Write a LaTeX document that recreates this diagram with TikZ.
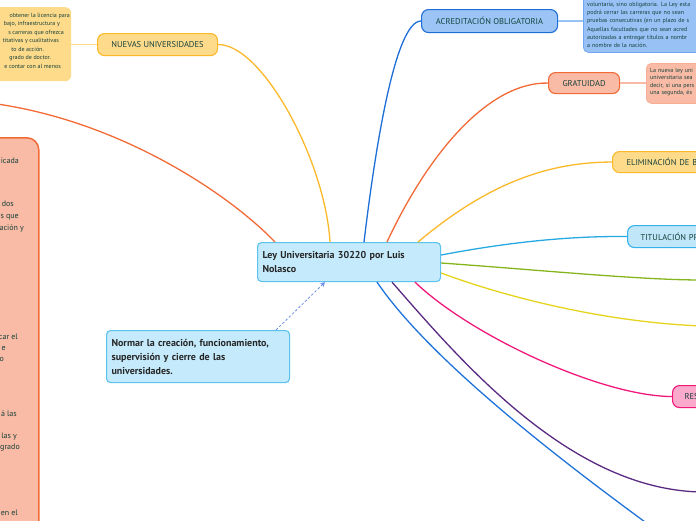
\documentclass[tikz,border=0pt]{standalone}
\usepackage{fontspec}
\setmainfont{PT Sans}
\usetikzlibrary{calc,arrows.meta}
\definecolor{txt}{HTML}{16403A}
\definecolor{mainfill}{HTML}{C4EAFB}
\definecolor{mainline}{HTML}{5CC3EE}
\definecolor{yelfill}{HTML}{FEDB8B}
\definecolor{yelline}{HTML}{FBB829}
\definecolor{acrfill}{HTML}{9CC5F6}
\definecolor{acrline}{HTML}{1E6ED8}
\definecolor{acrnote}{HTML}{98C2F6}
\definecolor{acrnoteline}{HTML}{6FA7F0}
\definecolor{orfill}{HTML}{F9BBA5}
\definecolor{orline}{HTML}{F26A36}
\definecolor{ornoteline}{HTML}{F8AE95}
\definecolor{titfill}{HTML}{BFE6F9}
\definecolor{titline}{HTML}{36B2EA}
\definecolor{pinkfill}{HTML}{FCAACB}
\definecolor{pinkline}{HTML}{F0187A}
\definecolor{cyanline}{HTML}{26A9E3}
\definecolor{greenline}{HTML}{84B51C}
\definecolor{yellowline}{HTML}{E6D41C}
\definecolor{purpleline}{HTML}{5A2A82}
\definecolor{blueline}{HTML}{1F73D9}
\definecolor{dashcol}{HTML}{6F8FE8}
\begin{document}
\begin{tikzpicture}[x=1pt,y=-1pt,
  lab/.style={font=\fontsize{8.5}{10}\selectfont, text=txt},
  pill/.style={draw, line width=1.1pt, rounded corners=7pt, anchor=north west, inner sep=0pt, lab},
  mainbox/.style={draw=mainline, fill=mainfill, line width=1.1pt, rounded corners=4pt, anchor=north west,
     inner xsep=5pt, inner ysep=0pt, align=left, text=black!85, font=\bfseries\fontsize{10}{14}\selectfont},
  notebox/.style={rounded corners=5pt, anchor=north west, inner sep=0pt},
  smalltext/.style={inner sep=0pt, text=txt, font=\fontsize{6}{8.35}\selectfont},
  bigtext/.style={inner sep=0pt, text=txt, font=\fontsize{8}{12}\selectfont, anchor=base east},
  conn/.style={line width=1.3pt},
  notelink/.style={line width=1.6pt}]
\useasboundingbox (0,0) rectangle (696,520);
\clip (0,0) rectangle (696,520);

% ---------- left big orange note ----------
\node[notebox, draw=orline, fill=orfill, line width=1.5pt, rounded corners=12pt, minimum width=240pt, minimum height=500pt] (leftnote) at (-202,137) {};
\node[bigtext] (l1) at (19,163) {icada};
\node[bigtext] (l2) at (14,206) {dos};
\node[bigtext] (l3) at (19,218) {s que};
\node[bigtext] (l4) at (24,230) {ación y};
\node[bigtext] (l5) at (18,339) {car el};
\node[bigtext] (l6) at (6,350) {e};
\node[bigtext] (l7) at (4,361) {o};
\node[bigtext] (l8) at (17,416) {á las};
\node[bigtext] (l9) at (17,438) {las y};
\node[bigtext] (l10) at (20,449) {grado};
\node[bigtext] (l11) at (18,515) {en el};

% ---------- left yellow note ----------
\node[notebox, fill=yelfill, rounded corners=6pt, minimum width=111pt, minimum height=74pt] (nuevnote) at (-40,7) {};
\node[smalltext, anchor=base east] (y1) at (70,17) {obtener la licencia para};
\node[smalltext, anchor=base east] (y2) at (60,25.5) {bajo, infraestructura y};
\node[smalltext, anchor=base east] (y3) at (64,34) {s carreras que ofrezca};
\node[smalltext, anchor=base east] (y4) at (59,42.5) {titativas y cualitativas};
\node[smalltext, anchor=base east] (y5) at (44,51) {to de acción.};
\node[smalltext, anchor=base east] (y6) at (51,59.5) {grado de doctor.};
\node[smalltext, anchor=base east] (y7) at (61,68) {e contar con al menos};

% ---------- main node ----------
\node[mainbox, minimum width=183pt, minimum height=39pt, text width=173pt] (central) at (257,242)
  {Ley Universitaria 30220 por Luis\\Nolasco};

\node[mainbox, minimum width=183pt, minimum height=52pt, text width=173pt] (normar) at (106,330)
  {Normar la creación, funcionamiento,\\supervisión y cierre de las\\universidades.};

% ---------- topic nodes ----------
\node[pill, fill=yelfill, draw=yelline, minimum width=120pt, minimum height=22pt] (nuev) at (97,33) {NUEVAS UNIVERSIDADES};
\node[pill, fill=acrfill, draw=acrline, minimum width=136pt, minimum height=23pt] (acred) at (421,9) {ACREDITACIÓN OBLIGATORIA};
\node[pill, fill=orfill, draw=orline, minimum width=71pt, minimum height=21pt] (grat) at (548,72) {GRATUIDAD};
\node[pill, fill=yelfill, draw=yelline, minimum height=21pt, text width=136pt, align=left, inner xsep=14pt] (elim) at (612,151) {ELIMINACIÓN DE B};
\node[pill, fill=titfill, draw=titline, minimum height=22pt, text width=136pt, align=left, inner xsep=13pt] (titul) at (627,225) {TITULACIÓN PR};
\node[pill, fill=pinkfill, draw=pinkline, minimum height=22pt, text width=80pt, align=left, inner xsep=12pt] (res) at (672,385) {RES};

% ---------- notes on the right ----------
\node[notebox, draw=acrnoteline, fill=acrnote, line width=0.8pt, minimum width=180pt, minimum height=92pt] (acrednote) at (583,-40) {};
\node[smalltext, anchor=base west, text width=170pt, align=left] (acredtext) at (587,6)
  {voluntaria, sino obligatoria. La Ley esta\\podrá cerrar las carreras que no sean\\pruebas consecutivas (en un plazo de s\\Aquellas facultades que no sean acred\\autorizadas a entregar títulos a nombr\\a nombre de la nación.};

\node[notebox, draw=ornoteline, fill=orfill, line width=0.8pt, minimum width=120pt, minimum height=40pt] (gratnote) at (646,63) {};
\node[smalltext, anchor=base west, text width=60pt, align=left, font=\fontsize{6}{7.6}\selectfont] (grattext) at (650,72)
  {La nueva ley uni\\universitaria sea\\decir, si una pers\\una segunda, és};

% ---------- note links ----------
\draw[notelink, draw=yelfill] (nuev.west) -- (nuevnote.east |- nuev.west);
\draw[notelink, draw=acrnote] (acred.east) -- (acrednote.west |- acred.east);
\draw[notelink, draw=orfill] (grat.east) -- (gratnote.west |- grat.east);

% ---------- off-canvas ends ----------
\coordinate (offL) at (-10,103);
\coordinate (offG) at (702,280);
\coordinate (offY) at (702,326);
\coordinate (offP) at (702,492);
\coordinate (offB) at (656,530);

% ---------- connectors ----------
\draw[conn, orline] ($(central.north west)+(18,0)$) .. controls (230,195) and (120,120) .. (offL);
\draw[conn, yelline] ($(central.north west)+(73,0)$) .. controls (325,160) and (262,44) .. (nuev.east);
\draw[conn, acrline] ($(central.north west)+(107,0)$) .. controls (375,150) and (395,21) .. (acred.west);
\draw[conn, orline] ($(central.north west)+(130,0)$) .. controls (430,150) and (490,82) .. (grat.west);
\draw[conn, yelline] ($(central.north west)+(161,0)$) .. controls (480,190) and (540,162) .. (elim.west);
\draw[conn, cyanline] ($(central.north east)+(0,13)$) .. controls (520,240) and (580,236) .. (titul.west);
\draw[conn, greenline] ($(central.north east)+(0,21)$) .. controls (540,270) and (640,280) .. (offG);
\draw[conn, yellowline] ($(central.north east)+(0,31)$) .. controls (500,295) and (600,322) .. (offY);
\draw[conn, pinkline] ($(central.south west)+(158,0)$) .. controls (470,335) and (600,396) .. (res.west);
\draw[conn, purpleline] ($(central.south west)+(135,0)$) .. controls (460,360) and (570,490) .. (offP);
\draw[conn, blueline] ($(central.south west)+(120,0)$) .. controls (430,360) and (560,460) .. (offB);

\draw[dashcol, line width=0.8pt, dash pattern=on 2.5pt off 2pt, -{Stealth[length=5pt,width=5pt]}]
  ($(normar.north west)+(170,0)$) -- ($(central.south west)+(68,0)$);
\end{tikzpicture}
\end{document}
